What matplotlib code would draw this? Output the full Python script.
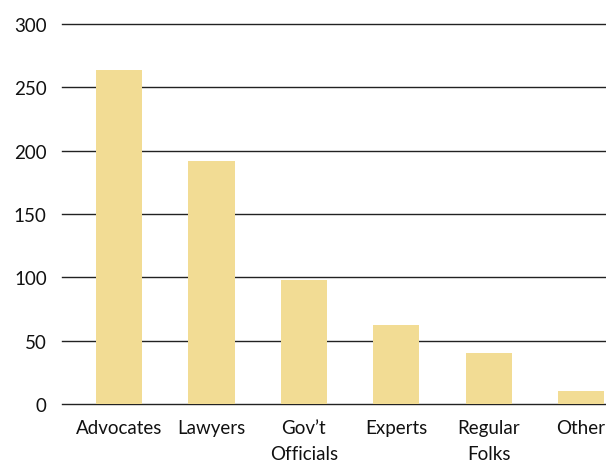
import matplotlib
matplotlib.use("Agg")
import matplotlib.pyplot as plt

categories = ["Advocates", "Lawyers", "Gov\u2019t\nOfficials", "Experts", "Regular\nFolks", "Other"]
counts = [264, 192, 98, 62, 40, 10]
yticks = [0, 50, 100, 150, 200, 250, 300]

plt.rcParams["font.family"] = ["Lato", "DejaVu Sans"]

fig = plt.figure(figsize=(6.06, 4.64), dpi=100)
ax = fig.add_axes([62 / 606, 59 / 464, 544 / 606, 380 / 464])

x = range(len(categories))
ax.bar(x, counts, width=0.5, color="#F2DC94", zorder=3)

ax.set_ylim(0, 300)
ax.set_xlim(-0.617, 5.27)
ax.set_yticks(yticks)
ax.set_xticks(list(x))
ax.set_xticklabels(categories, linespacing=1.6)
ax.yaxis.grid(True, color="#222222", linewidth=1.0, zorder=1)
for gl in ax.get_ygridlines():
    gl.set_clip_on(False)

for side in ["top", "right", "left", "bottom"]:
    ax.spines[side].set_visible(False)
ax.tick_params(axis="both", length=0, labelsize=13.5, colors="#111111")
ax.tick_params(axis="y", pad=11)
ax.tick_params(axis="x", pad=11)

fig.savefig("out.png", dpi=100)
